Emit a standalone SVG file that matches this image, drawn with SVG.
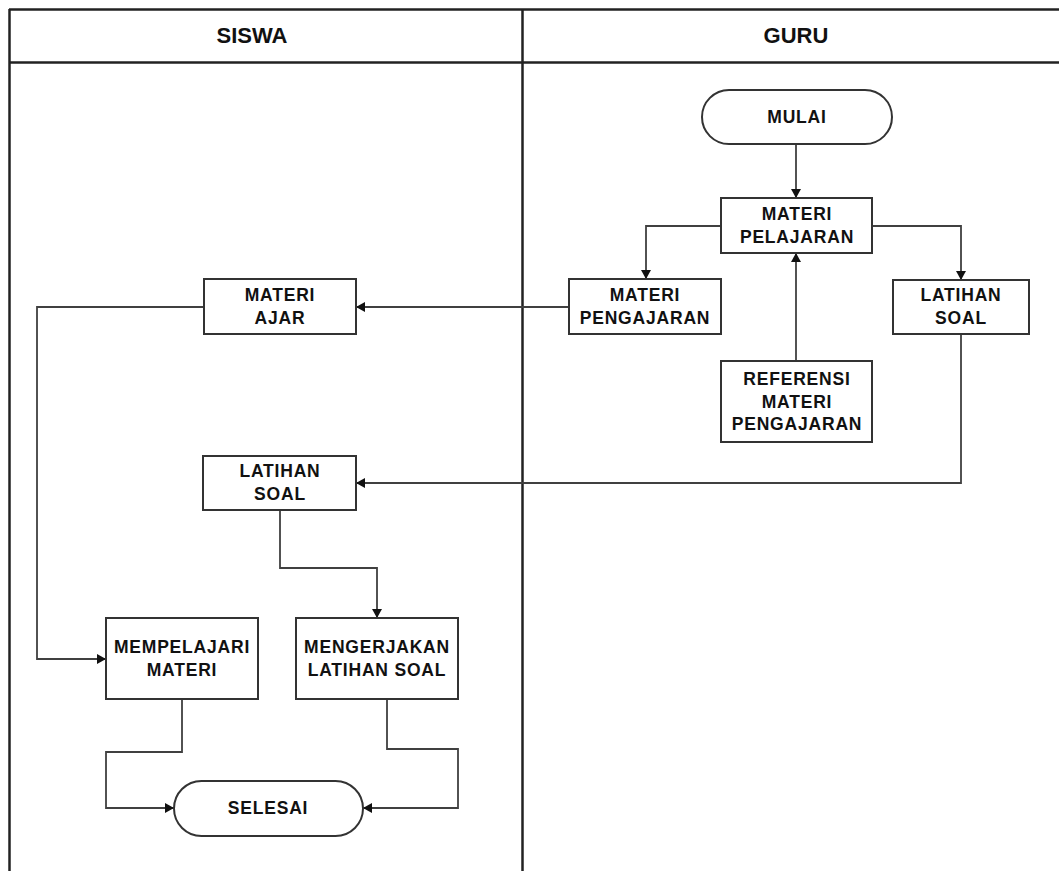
<svg xmlns="http://www.w3.org/2000/svg" width="1059" height="871" viewBox="0 0 1059 871">
<style>
.lane{stroke:#222;stroke-width:2.5;fill:none}
.box{fill:#fff;stroke:#333;stroke-width:2}
.t{font-family:"Liberation Sans",Arial,sans-serif;font-weight:bold;font-size:17.5px;letter-spacing:0.8px;fill:#111;text-anchor:middle}
.h{font-family:"Liberation Sans",Arial,sans-serif;font-weight:bold;font-size:22px;fill:#111;text-anchor:middle}
.c{fill:none;stroke:#404040;stroke-width:1.8;marker-end:url(#arr)}
</style>
<defs>
<marker id="arr" markerUnits="userSpaceOnUse" markerWidth="10" markerHeight="10" refX="9" refY="5" orient="auto">
<path d="M0,0 L9,5 L0,10 z" fill="#111"/>
</marker>
</defs>
<rect width="1059" height="871" fill="#fff"/>
<g id="lanes">
<line class="lane" x1="9" y1="9.5" x2="1059" y2="9.5"/>
<line class="lane" x1="9" y1="62.5" x2="1059" y2="62.5"/>
<line class="lane" x1="9.5" y1="9" x2="9.5" y2="871"/>
<line class="lane" x1="522.5" y1="9" x2="522.5" y2="871"/>
<text class="h" x="252" y="43">SISWA</text>
<text class="h" x="796" y="43">GURU</text>
</g>
<g id="connectors">
<path class="c" d="M796,144 V198"/>
<path class="c" d="M721,226 H646 V279"/>
<path class="c" d="M872,226 H961 V280"/>
<path class="c" d="M796,361 V253"/>
<path class="c" d="M569,307 H356"/>
<path class="c" d="M961,334 V483 H356"/>
<path class="c" d="M204,307 H37 V659 H106"/>
<path class="c" d="M280,510 V568 H377 V618"/>
<path class="c" d="M182,699 V752 H106 V808 H174"/>
<path class="c" d="M387,699 V749 H458 V808 H363"/>
</g>
<g id="mulai">
<rect class="box" x="702" y="90" width="190" height="54" rx="27"/>
<text class="t" x="797" y="123">MULAI</text>
</g>
<g id="materi-pelajaran">
<rect class="box" x="721" y="198" width="151" height="55"/>
<text class="t" x="797" y="220">MATERI</text>
<text class="t" x="797" y="243">PELAJARAN</text>
</g>
<g id="materi-pengajaran">
<rect class="box" x="569" y="279" width="152" height="55"/>
<text class="t" x="645" y="301">MATERI</text>
<text class="t" x="645" y="324">PENGAJARAN</text>
</g>
<g id="latihan-soal-guru">
<rect class="box" x="893" y="280" width="136" height="54"/>
<text class="t" x="961" y="301">LATIHAN</text>
<text class="t" x="961" y="324">SOAL</text>
</g>
<g id="referensi">
<rect class="box" x="721" y="361" width="151" height="81"/>
<text class="t" x="797" y="385">REFERENSI</text>
<text class="t" x="797" y="408">MATERI</text>
<text class="t" x="797" y="430">PENGAJARAN</text>
</g>
<g id="materi-ajar">
<rect class="box" x="204" y="279" width="152" height="55"/>
<text class="t" x="280" y="301">MATERI</text>
<text class="t" x="280" y="324">AJAR</text>
</g>
<g id="latihan-soal-siswa">
<rect class="box" x="203" y="456" width="153" height="54"/>
<text class="t" x="280" y="477">LATIHAN</text>
<text class="t" x="280" y="500">SOAL</text>
</g>
<g id="mempelajari">
<rect class="box" x="106" y="618" width="152" height="81"/>
<text class="t" x="182" y="653">MEMPELAJARI</text>
<text class="t" x="182" y="676">MATERI</text>
</g>
<g id="mengerjakan">
<rect class="box" x="296" y="618" width="162" height="81"/>
<text class="t" x="377" y="653">MENGERJAKAN</text>
<text class="t" x="377" y="676">LATIHAN SOAL</text>
</g>
<g id="selesai">
<rect class="box" x="174" y="781" width="189" height="55" rx="27.5"/>
<text class="t" x="268" y="814">SELESAI</text>
</g>
</svg>
